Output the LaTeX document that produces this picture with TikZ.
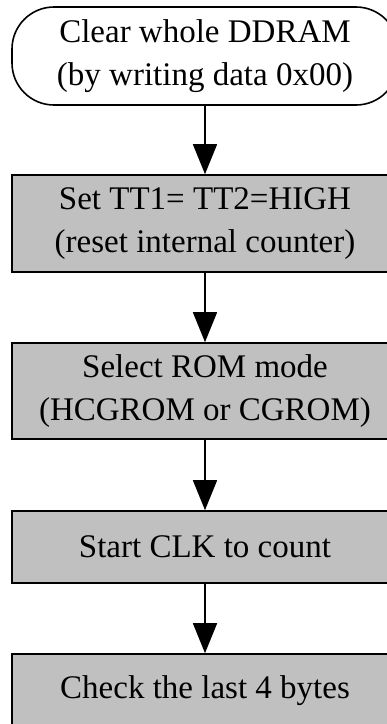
\documentclass[tikz,border=0pt]{standalone}
\usepackage{fontspec}
\setmainfont{Liberation Serif}
\usetikzlibrary{arrows.meta}
\definecolor{boxgray}{RGB}{192,192,192}

\tikzset{
  stepbox/.style={draw, line width=1.6pt, fill=boxgray, minimum width=386pt,
    inner sep=0pt, align=center, font=\fontsize{33}{43}\selectfont},
  startbox/.style={stepbox, fill=white, rounded corners=42pt},
  flow/.style={line width=1.6pt, -{Triangle[length=30pt,width=24pt]}}
}

\begin{document}
\begin{tikzpicture}[x=1pt,y=-1pt]
\clip (0,0) rectangle (387,724);
\fill[white] (0,0) rectangle (387,724);
% steps
\node[startbox, minimum height=98pt] (clear) at (205,56) {Clear whole DDRAM\\(by writing data 0x00)};
\node[stepbox, minimum height=97pt] (reset) at (205,223.5) {Set TT1= TT2=HIGH\\(reset internal counter)};
\node[stepbox, minimum height=96pt] (rom) at (205,391) {Select ROM mode\\(HCGROM or CGROM)};
\node[stepbox, minimum height=72pt] (clk) at (205,547) {Start CLK to count};
\node[stepbox, minimum height=74pt] (check) at (205,691) {Check the last 4 bytes};
% arrows
\draw[flow] (clear) -- (reset);
\draw[flow] (reset) -- (rom);
\draw[flow] (rom) -- (clk);
\draw[flow] (clk) -- (check);
\end{tikzpicture}
\end{document}
